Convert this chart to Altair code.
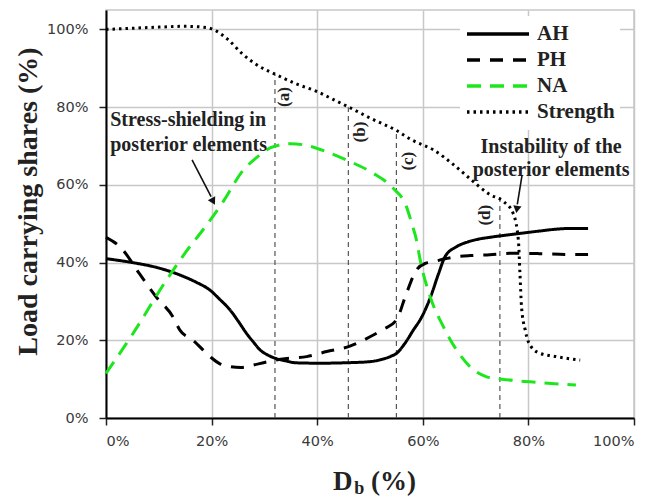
import altair as alt
import pandas as pd

# ---------------- data ----------------
series_names = ["AH", "PH", "NA", "Strength"]
series_colors = ["#000000", "#000000", "#1ee61e", "#000000"]

ah_x = [0, 5, 10, 14, 17, 19.7, 21.5, 23.5, 25, 26.6, 28, 29.2, 30.5, 32, 34, 36, 40.5, 45, 50, 52, 54, 55, 56.5, 58.2, 59.8, 61.4, 63, 64.2, 66.4, 68.5, 70.8, 72.7, 76, 79, 82, 85.3, 88, 91.3]
ah_y = [41, 40, 38.6, 36.8, 35, 32.9, 30.6, 27.8, 25, 21.8, 19.4, 17.5, 16.3, 15.4, 14.7, 14.2, 14.1, 14.2, 14.5, 15, 15.9, 16.6, 19, 22.6, 26, 30.9, 37.2, 41.5, 44.1, 45.3, 46.1, 46.5, 47.1, 47.6, 48.1, 48.6, 48.8, 48.8]

ph_x = [0, 2.7, 6.4, 9.6, 12.7, 14, 16.5, 19.7, 21.5, 23.5, 25.5, 27.9, 30, 32, 35, 38, 41.8, 46.2, 50, 52.5, 55, 56.9, 58.8, 60.5, 62, 64, 66.4, 69, 72.7, 77, 82, 87, 91.3]
ph_y = [46.5, 44, 37, 31, 26, 22.6, 20, 15.8, 14, 13.2, 13, 13.6, 14.3, 14.9, 15.4, 15.8, 17.1, 18.5, 20.9, 22.8, 25.2, 32.1, 38.1, 39.8, 40.2, 40.9, 41.5, 41.8, 42, 42.4, 42.3, 42.1, 42.1]

na_x = [0, 5, 11.5, 15, 18.8, 22.2, 26, 28.5, 30.4, 33, 35, 37.4, 41.8, 46.2, 50.6, 54.4, 56.9, 57.9, 58.8, 59.5, 61.4, 63.9, 66.4, 69.6, 72.1, 75, 80.3, 85, 89]
na_y = [11.5, 21.5, 35.6, 42.5, 49.2, 55.7, 63.8, 67, 69, 70.3, 70.6, 70.3, 68.5, 66, 63, 59.1, 54.4, 50.1, 45.8, 40.7, 31.2, 23.5, 17.5, 12.4, 10.6, 10, 9.3, 8.8, 8.5]

st_x = [0, 5, 10, 15, 19, 21, 23, 26, 29, 32, 36, 40, 43, 46, 50, 55, 58, 62, 66, 69, 72.7, 75.3, 77.1, 78.1, 78.4, 78.7, 79.4, 80, 81.9, 85.3, 89.8]
st_y = [100, 100.3, 100.6, 100.8, 100.5, 99.5, 97.5, 93.5, 90.5, 88.5, 86, 84, 82, 80, 77.2, 74, 71.5, 69, 65, 61.5, 57.5, 55.7, 52.7, 45.8, 37.2, 28.6, 22.6, 19.6, 16.8, 15.8, 14.9]

# reference (dashed) verticals
ref_x = [32, 45.9, 55, 74.6]
ref_top = [88.5, 80, 74, 57]
ref_labels = ["(a)", "(b)", "(c)", "(d)"]
ref_label_x = [33.7, 48.1, 57.2, 71.8]
ref_label_y = [82.6, 73.6, 66.1, 52.2]

# annotations
left_note_text = ["Stress-shielding in", "posterior elements"]
left_note_x = [0.8, 0.8]
left_note_y = [76.7, 70.3]
right_note_text = ["Instability of the", "posterior elements"]
right_note_x = [84.3, 84.3]
right_note_y = [69.7, 63.8]

arrow_x = [16.3, 78.8]
arrow_y = [66.4, 62.5]
arrow_x2 = [19.9, 77.9]
arrow_y2 = [57.0, 55.0]
arrow_head_x = [20.2, 77.85]
arrow_head_y = [56.0, 54.0]
arrow_angle = [152, 189]

# x-axis title pieces: D, subscript b, (%)
xtitle_text = ["D", "b", "(%)"]
xtitle_x = [43.0, 47.0, 50.2]
xtitle_y = [-18.5, -19.6, -18.5]
xtitle_size = [27, 18, 27]

tick_values = [0, 20, 40, 60, 80, 100]

# ---------------- tables ----------------
rows = []
for name, xs, ys in [("AH", ah_x, ah_y), ("PH", ph_x, ph_y), ("NA", na_x, na_y), ("Strength", st_x, st_y)]:
    for i, (a, b) in enumerate(zip(xs, ys)):
        rows.append({"series": name, "x": a, "y": b, "order": i})
df = pd.DataFrame(rows)

ref_df = pd.DataFrame({"x": ref_x, "y0": [0] * 4, "top": ref_top,
                       "label": ref_labels, "lx": ref_label_x, "ly": ref_label_y})
left_df = pd.DataFrame({"text": left_note_text, "x": left_note_x, "y": left_note_y})
right_df = pd.DataFrame({"text": right_note_text, "x": right_note_x, "y": right_note_y})
arrow_df = pd.DataFrame({"x": arrow_x, "y": arrow_y, "x2": arrow_x2, "y2": arrow_y2,
                         "hx": arrow_head_x, "hy": arrow_head_y, "angle": arrow_angle})
xtitle_df = pd.DataFrame({"text": xtitle_text, "x": xtitle_x, "y": xtitle_y, "size": xtitle_size})

xsc = alt.Scale(domain=[0, 100], nice=False, zero=False)
ysc = alt.Scale(domain=[0, 105], nice=False, zero=False)

SERIF = "Liberation Serif"

x_axis = alt.Axis(values=tick_values, labelExpr="datum.value + '%'", title=None,
                  labelPadding=9)
y_axis = alt.Axis(values=tick_values, labelExpr="datum.value + '%'",
                  title="Load carrying shares (%)", titleFont=SERIF, titleFontSize=28,
                  titleFontWeight="bold", titleColor="#222222",
                  titleX=-78, titleY=191, titleBaseline="middle", titleAngle=270,
                  labelPadding=11)

lines = alt.Chart(df).mark_line(interpolate="monotone", strokeWidth=3).encode(
    x=alt.X("x:Q", scale=xsc, axis=x_axis),
    y=alt.Y("y:Q", scale=ysc, axis=y_axis),
    order="order:Q",
    color=alt.Color("series:N", scale=alt.Scale(domain=series_names, range=series_colors),
                    legend=alt.Legend(title=None)),
    strokeDash=alt.StrokeDash("series:N",
                              scale=alt.Scale(domain=series_names,
                                              range=[[1, 0], [13, 10], [14, 9], [2.5, 4]]),
                              legend=alt.Legend(title=None)),
)

refs = alt.Chart(ref_df).mark_rule(color="#555555", strokeWidth=1.2, strokeDash=[5, 4]).encode(
    x=alt.X("x:Q", scale=xsc), y=alt.Y("y0:Q", scale=ysc), y2="top:Q")

ref_labels_layer = alt.Chart(ref_df).mark_text(font=SERIF, fontWeight="bold", fontSize=17,
                                               angle=270, color="#222222").encode(
    x=alt.X("lx:Q", scale=xsc), y=alt.Y("ly:Q", scale=ysc), text="label:N")

notes_left = alt.Chart(left_df).mark_text(font=SERIF, fontWeight="bold", fontSize=20,
                                          color="#222222", baseline="middle", align="left").encode(
    x=alt.X("x:Q", scale=xsc), y=alt.Y("y:Q", scale=ysc), text="text:N")
notes_right = alt.Chart(right_df).mark_text(font=SERIF, fontWeight="bold", fontSize=20,
                                            color="#222222", baseline="middle", align="center").encode(
    x=alt.X("x:Q", scale=xsc), y=alt.Y("y:Q", scale=ysc), text="text:N")

arrows = alt.Chart(arrow_df).mark_rule(color="#111111", strokeWidth=1.6).encode(
    x=alt.X("x:Q", scale=xsc), y=alt.Y("y:Q", scale=ysc), x2="x2:Q", y2="y2:Q")

heads = alt.Chart(arrow_df).mark_point(shape="triangle", filled=True, color="#111111",
                                       size=70, opacity=1).encode(
    x=alt.X("hx:Q", scale=xsc), y=alt.Y("hy:Q", scale=ysc),
    angle=alt.Angle("angle:Q", scale=None))

xtitle = alt.Chart(xtitle_df).mark_text(font=SERIF, fontWeight="bold", align="left",
                                        baseline="alphabetic", color="#222222").encode(
    x=alt.X("x:Q", scale=xsc), y=alt.Y("y:Q", scale=ysc), text="text:N",
    size=alt.Size("size:Q", scale=None, legend=None))

chart = alt.layer(refs, lines, ref_labels_layer, notes_left, notes_right, arrows, heads, xtitle).properties(
    width=528, height=408,
    autosize=alt.AutoSizeParams(type="none"),
    padding={"left": 98, "top": 2, "right": 30, "bottom": 79},
).configure_view(
    stroke="#c8c8c8", strokeWidth=1.5
).configure_axis(
    domainColor="#000000", domainWidth=2, tickColor="#222222", tickSize=7, tickWidth=1.5,
    gridColor="#c8c8c8", gridWidth=1.5, labelFont="DejaVu Sans", labelFontSize=14.5,
    labelColor="#3a3a3a"
).configure_legend(
    orient="none", legendX=354, legendY=6, fillColor="white", padding=5,
    symbolType="stroke", symbolSize=3844, symbolStrokeWidth=3.5, labelFont=SERIF,
    labelFontSize=21, labelFontWeight="bold", labelColor="#222222", labelOffset=6,
    clipHeight=26, rowPadding=0, labelBaseline="middle"
)

chart.save("out.html", embed_options={"renderer": "svg", "actions": False})
